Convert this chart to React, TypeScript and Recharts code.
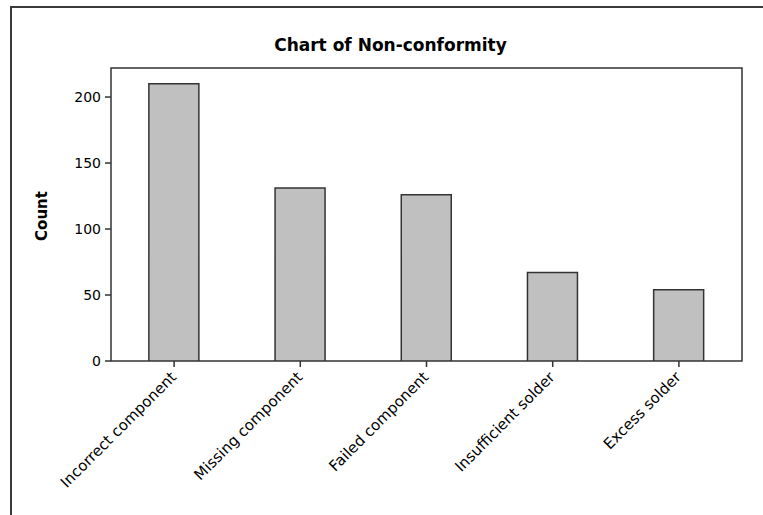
import React from 'react';
import { BarChart, Bar, XAxis, YAxis, ReferenceArea } from 'recharts';

const categories = ['Incorrect component', 'Missing component', 'Failed component', 'Insufficient solder', 'Excess solder'];
const counts = [210, 131, 126, 67, 54];
const yTicks = [0, 50, 100, 150, 200];
const yMax = 222;
const title = 'Chart of Non-conformity';
const yLabel = 'Count';

const data = categories.map((name, i) => ({ name, count: counts[i] }));

const FONT = '"DejaVu Sans", Verdana, sans-serif';

const XTick = (props: any) => {
  const { x, y, payload } = props;
  const tx = x + 3;
  const ty = y + 11;
  return (
    <text
      x={tx}
      y={ty}
      textAnchor="end"
      transform={`rotate(-45, ${tx}, ${ty})`}
      fontFamily={FONT}
      fontSize={15}
      fill="#000"
    >
      {payload.value}
    </text>
  );
};

export default function App() {
  return (
    <div
      style={{
        position: 'absolute',
        left: 0,
        top: 0,
        width: 763,
        height: 515,
        overflow: 'hidden',
        background: '#fff',
      }}
    >
      <div
        style={{
          position: 'absolute',
          left: 10,
          top: 6,
          width: 753,
          height: 509,
          borderTop: '2px solid #3a3a3a',
          borderLeft: '2px solid #3a3a3a',
          boxSizing: 'border-box',
        }}
      />
      <div
        style={{
          position: 'absolute',
          left: 0,
          top: 35,
          width: 781,
          textAlign: 'center',
          fontFamily: FONT,
          fontWeight: 'bold',
          fontSize: 17,
          lineHeight: '20px',
          color: '#000',
        }}
      >
        {title}
      </div>
      <div
        style={{
          position: 'absolute',
          left: 42,
          top: 216,
          transform: 'translate(-50%, -50%) rotate(-90deg)',
          fontFamily: FONT,
          fontWeight: 'bold',
          fontSize: 15,
          lineHeight: '18px',
          whiteSpace: 'nowrap',
          color: '#000',
        }}
      >
        {yLabel}
      </div>
      <div style={{ position: 'absolute', left: 0, top: 0 }}>
        <BarChart
          width={763}
          height={515}
          data={data}
          margin={{ top: 68, right: 21, left: 0, bottom: 0 }}
          barCategoryGap="30%"
        >
          <XAxis
            dataKey="name"
            type="category"
            interval={0}
            height={154}
            axisLine={false}
            tickLine={{ stroke: '#333', strokeWidth: 1.5 }}
            tickSize={6}
            tickMargin={0}
            tick={XTick}
          />
          <YAxis
            type="number"
            domain={[0, yMax]}
            ticks={yTicks}
            allowDataOverflow
            width={111}
            axisLine={false}
            tickLine={{ stroke: '#333', strokeWidth: 1.5 }}
            tickSize={6}
            tickMargin={4}
            tick={{ fontFamily: FONT, fontSize: 14, fill: '#000' }}
          />
          <Bar
            dataKey="count"
            fill="#c0c0c0"
            stroke="#333"
            strokeWidth={1.5}
            isAnimationActive={false}
          />
          <ReferenceArea
            y1={0}
            y2={yMax}
            fill="none"
            fillOpacity={0}
            stroke="#333"
            strokeWidth={1.5}
            ifOverflow="visible"
          />
        </BarChart>
      </div>
    </div>
  );
}
